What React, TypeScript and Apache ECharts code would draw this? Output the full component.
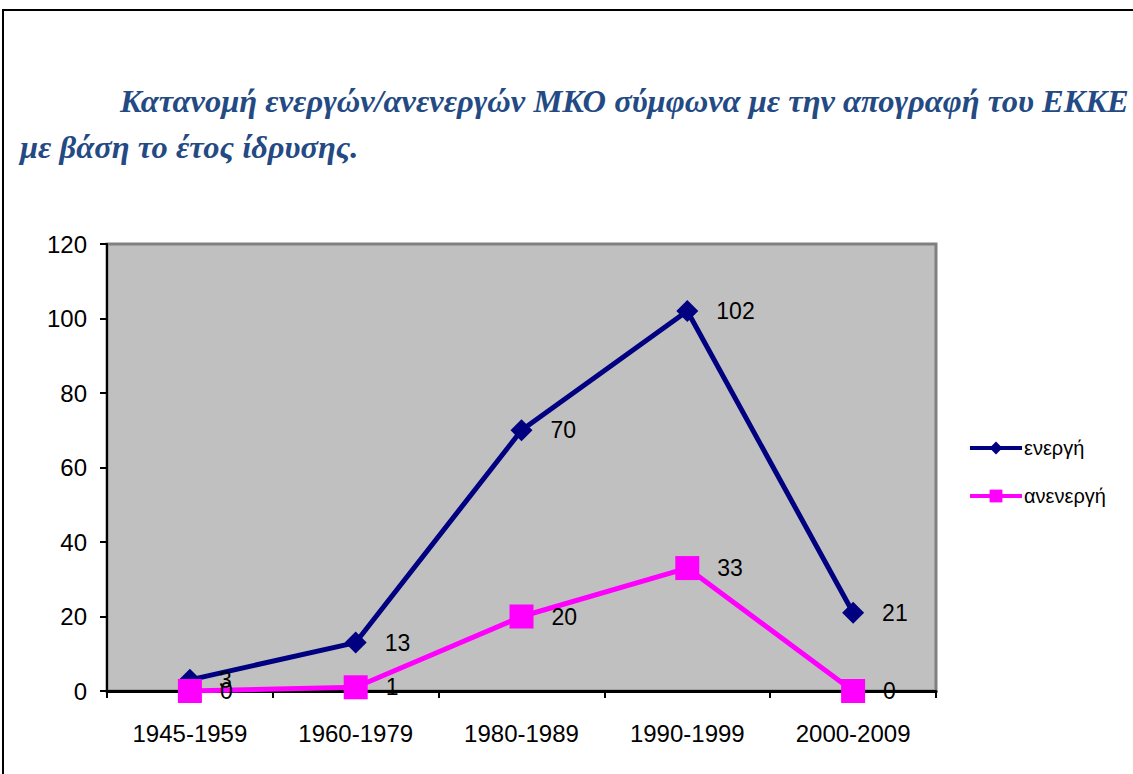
import React, { useEffect, useRef } from "react";
import * as echarts from "echarts";

const categories = ["1945-1959", "1960-1979", "1980-1989", "1990-1999", "2000-2009"];
const activeValues = [3, 13, 70, 102, 21];
const inactiveValues = [0, 1, 20, 33, 0];
const seriesNames = ["ενεργή", "ανενεργή"];
const titleLine1 = "Κατανομή ενεργών/ανενεργών ΜΚΟ σύμφωνα με την απογραφή του ΕΚΚΕ";
const titleLine2 = "με βάση το έτος ίδρυσης.";

export default function App() {
  const ref = useRef<HTMLDivElement>(null);
  useEffect(() => {
    if (!ref.current) return;
    const chart = echarts.init(ref.current, null, { renderer: "svg" });
    const labelStyle = {
      show: true,
      position: "right" as const,
      distance: 18,
      fontSize: 23,
      color: "#000",
      fontFamily: "Liberation Sans, Arial, sans-serif",
    };
    const titleStyle = {
      fontFamily: "Liberation Serif, Times New Roman, serif",
      fontStyle: "italic",
      fontWeight: "bold",
      fontSize: 32.5,
      fill: "#244A84",
      textVerticalAlign: "middle",
    };
    chart.setOption({
      animation: false,
      backgroundColor: "#fff",
      graphic: [
        {
          type: "rect",
          shape: { x: 3, y: 10, width: 1140, height: 800 },
          style: { fill: "none", stroke: "#000", lineWidth: 2 },
          silent: true,
        },
        { type: "text", x: 120, y: 101, style: { ...titleStyle, text: titleLine1 } },
        { type: "text", x: 20, y: 147, style: { ...titleStyle, text: titleLine2 } },
      ],
      grid: {
        left: 107,
        top: 244,
        width: 829,
        height: 447,
        show: true,
        backgroundColor: "#C0C0C0",
        borderColor: "#808080",
        borderWidth: 3,
        containLabel: false,
      },
      legend: {
        orient: "vertical",
        left: 963,
        top: 433,
        itemWidth: 52,
        itemHeight: 16,
        itemGap: 28,
        data: seriesNames,
        lineStyle: { width: 4 },
        textStyle: {
          fontSize: 20,
          color: "#000",
          fontFamily: "Liberation Sans, Arial, sans-serif",
          padding: [0, 0, 0, -3],
        },
      },
      xAxis: {
        type: "category",
        data: categories,
        boundaryGap: true,
        axisLine: { show: true, lineStyle: { color: "#000", width: 3 } },
        axisTick: { show: true, length: 7, lineStyle: { color: "#000", width: 2 } },
        axisLabel: {
          fontSize: 24,
          color: "#000",
          margin: 30,
          fontFamily: "Liberation Sans, Arial, sans-serif",
        },
      },
      yAxis: {
        type: "value",
        min: 0,
        max: 120,
        interval: 20,
        axisLine: { show: true, lineStyle: { color: "#000", width: 2 } },
        axisTick: { show: true, length: 7, lineStyle: { color: "#000", width: 2 } },
        splitLine: { show: false },
        axisLabel: {
          fontSize: 24,
          color: "#000",
          margin: 20,
          fontFamily: "Liberation Sans, Arial, sans-serif",
        },
      },
      series: [
        {
          name: seriesNames[0],
          type: "line",
          data: activeValues,
          symbol: "diamond",
          symbolSize: 22,
          lineStyle: { color: "#000080", width: 5 },
          itemStyle: { color: "#000080" },
          label: labelStyle,
          z: 3,
        },
        {
          name: seriesNames[1],
          type: "line",
          data: inactiveValues,
          symbol: "rect",
          symbolSize: 24,
          lineStyle: { color: "#FF00FF", width: 5 },
          itemStyle: { color: "#FF00FF" },
          label: labelStyle,
          z: 4,
        },
      ],
    });
    return () => chart.dispose();
  }, []);
  return (
    <div
      ref={ref}
      style={{ position: "absolute", left: 0, top: 0, width: 1133, height: 774 }}
    />
  );
}
